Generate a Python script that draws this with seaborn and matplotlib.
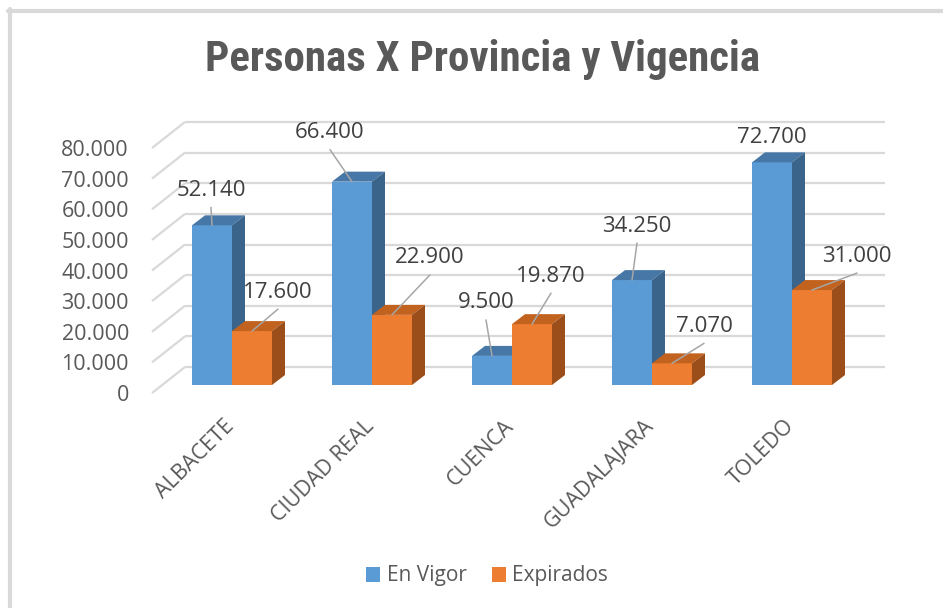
import numpy as np
import pandas as pd
import matplotlib
matplotlib.use("Agg")
import matplotlib.pyplot as plt
import seaborn as sns
from matplotlib.patches import Polygon, Patch
from matplotlib.lines import Line2D
from matplotlib import font_manager as fm

# ---------------- data ----------------
provincias = ["ALBACETE", "CIUDAD REAL", "CUENCA", "GUADALAJARA", "TOLEDO"]
series = ["En Vigor", "Expirados"]
en_vigor = [52140, 66400, 9500, 34250, 72700]
expirados = [17600, 22900, 19870, 7070, 31000]
y_ticks = [0, 10000, 20000, 30000, 40000, 50000, 60000, 70000, 80000]
title = "Personas X Provincia y Vigencia"

df = pd.DataFrame({
    "Provincia": provincias * 2,
    "Personas": en_vigor + expirados,
    "Vigencia": [series[0]] * len(provincias) + [series[1]] * len(provincias),
})

# ---------------- style ----------------
sns.set_style("white")
plt.rcParams["font.family"] = ["Open Sans", "DejaVu Sans"]

front = {"En Vigor": "#5B9BD5", "Expirados": "#ED7D31"}
topc = {"En Vigor": "#4677A6", "Expirados": "#C2621F"}
sidec = {"En Vigor": "#3A6489", "Expirados": "#9C4E1A"}
grid_c = "#D9D9D9"
txt_c = "#595959"
lab_c = "#404040"

W, H = 943, 608
fig = plt.figure(figsize=(W / 100, H / 100), dpi=100)

# layout in pixels
PXY = 245 / 80000.0      # px per value unit
BASE = 385               # px row of value 0 (bar front plane)
X0 = 162                 # px of category -0.5
CAT = 140                # px per category
Y0, Y1 = -4000, 84000
ax_bot = BASE - Y0 * PXY
ax_top = BASE - Y1 * PXY
ax = fig.add_axes([X0 / W, 1 - ax_bot / H, 5 * CAT / W, (ax_bot - ax_top) / H])
ax.set_facecolor("none")

def ux(px):
    return px / CAT

def uy(px):
    return px / PXY

sns.barplot(data=df, x="Provincia", y="Personas", hue="Vigencia",
            hue_order=series, order=provincias, palette=front,
            width=80 / 140, saturation=1, legend=False, linewidth=0,
            errorbar=None, ax=ax)

ax.set_xlim(-0.5, 4.5)
ax.set_ylim(Y0, Y1)
for s in ax.spines.values():
    s.set_visible(False)
ax.set_xlabel("")
ax.set_ylabel("")

# ------------- walls / gridlines -------------
wx, wy = ux(23), uy(18)     # back wall offset from bar-front plane
fx, fy = ux(-10), uy(-8)    # floor front offset from bar-front plane
for v in y_ticks:
    ax.plot([-0.5 + wx, 4.5 + wx], [v + wy, v + wy], color=grid_c, lw=1.6,
            zorder=0.5, clip_on=False, solid_capstyle="butt")
    ax.plot([-0.5 + fx, -0.5 + wx], [v + fy, v + wy], color=grid_c, lw=1.6,
            zorder=0.5, clip_on=False, solid_capstyle="butt")

# ------------- 3D faces of bars -------------
dx, dy = ux(13), uy(10)
for k, cont in enumerate(ax.containers):
    name = series[k]
    z = 2 + k
    for rect in cont.patches:
        rect.set_zorder(z)
        rect.set_clip_on(False)
        x, w, h = rect.get_x(), rect.get_width(), rect.get_height()
        top = Polygon([(x, h), (x + w, h), (x + w + dx, h + dy), (x + dx, h + dy)],
                      closed=True, fc=topc[name], ec="none", zorder=z, clip_on=False)
        side = Polygon([(x + w, 0), (x + w, h), (x + w + dx, h + dy), (x + w + dx, dy)],
                       closed=True, fc=sidec[name], ec="none", zorder=z, clip_on=False)
        ax.add_patch(top)
        ax.add_patch(side)

# ------------- axis tick labels -------------
def fmt(v):
    return f"{v:,}".replace(",", ".")

ax.set_yticks([v + fy for v in y_ticks])
ax.set_yticklabels([fmt(v) for v in y_ticks])
ax.tick_params(axis="y", length=0, pad=(X0 - 129) * 0.72, labelsize=15.5,
               labelcolor=txt_c)

ax.set_xticks([i + ux(231 - 232) for i in range(len(provincias))])
ax.set_xticklabels(provincias, rotation=45, ha="right", va="center",
                   rotation_mode="anchor")
ax.tick_params(axis="x", length=0, pad=(423 - ax_bot) * 0.72, labelsize=15.5,
               labelcolor=txt_c)

# ------------- data labels with leader lines -------------
label_off = [
    [(-1, -35), (-22, -49), (-6, -53), (5, -54), (0, -25)],
    [(26, -39), (38, -57), (19, -48), (32, -37), (45, -34)],
]
inv = ax.transData.inverted()
for k, cont in enumerate(ax.containers):
    for i, rect in enumerate(cont.patches):
        cx = rect.get_x() + rect.get_width() / 2
        hv = rect.get_height()
        p = ax.transData.transform((cx, hv))
        ox, oy = label_off[k][i]
        lp = p + np.array([ox, -oy])
        lx, ly = inv.transform(lp)
        ax.text(lx, ly, fmt(int(round(hv))), ha="center", va="center",
                fontsize=16, color=lab_c, zorder=7, clip_on=False)
        sp = lp + np.array([0, -17])
        if np.hypot(*(sp - p)) > 12:
            sx, sy = inv.transform(sp)
            ax.plot([sx, cx], [sy, hv], color="#A6A6A6", lw=1.1, zorder=6,
                    clip_on=False)

# ------------- legend -------------
handles = [Patch(facecolor=front[s], edgecolor="none", label=s) for s in series]
fig.legend(handles=handles, loc="center", bbox_to_anchor=(487 / W, 1 - 576 / H),
           ncol=2, frameon=False, fontsize=15, handlelength=0.7,
           handleheight=0.7, handletextpad=0.3, columnspacing=1.2,
           labelcolor=txt_c)

# ------------- title -------------
def pick_title_font():
    prefs = ["Liberation Sans Narrow", "Roboto Condensed", "Open Sans Condensed",
             "Noto Sans Condensed", "DejaVu Sans Condensed"]
    found = {}
    for f in fm.fontManager.ttflist:
        try:
            wt = int(f.weight)
        except Exception:
            wt = 700 if "bold" in str(f.weight).lower() else 400
        if wt < 600:
            continue
        st = str(f.stretch).lower()
        nm = f.name
        if "Narrow" in nm or "Condensed" in nm:
            found.setdefault(nm, f.fname)
        elif "condensed" in st:
            found.setdefault(nm + " Condensed", f.fname)
    for p in prefs:
        if p in found:
            return fm.FontProperties(fname=found[p])
    return fm.FontProperties(family="Open Sans", weight="bold")

tfp = pick_title_font()
tfp.set_size(26)
t = fig.text(482.5 / W, 1 - 71 / H, title, ha="center", va="baseline",
             fontproperties=tfp, color=txt_c)
r = fig.canvas.get_renderer()
wpx = t.get_window_extent(r).width
tfp.set_size(26 * 555 / wpx)
t.set_fontproperties(tfp)

# ------------- outer frame -------------
fig.add_artist(Line2D([8 / W, 1], [1 - 10.5 / H, 1 - 10.5 / H],
                      transform=fig.transFigure, color="#D9D9D9", lw=3))
fig.add_artist(Line2D([9.5 / W, 9.5 / W], [0, 1 - 9 / H],
                      transform=fig.transFigure, color="#D9D9D9", lw=3))

fig.savefig("out.png", dpi=100)
